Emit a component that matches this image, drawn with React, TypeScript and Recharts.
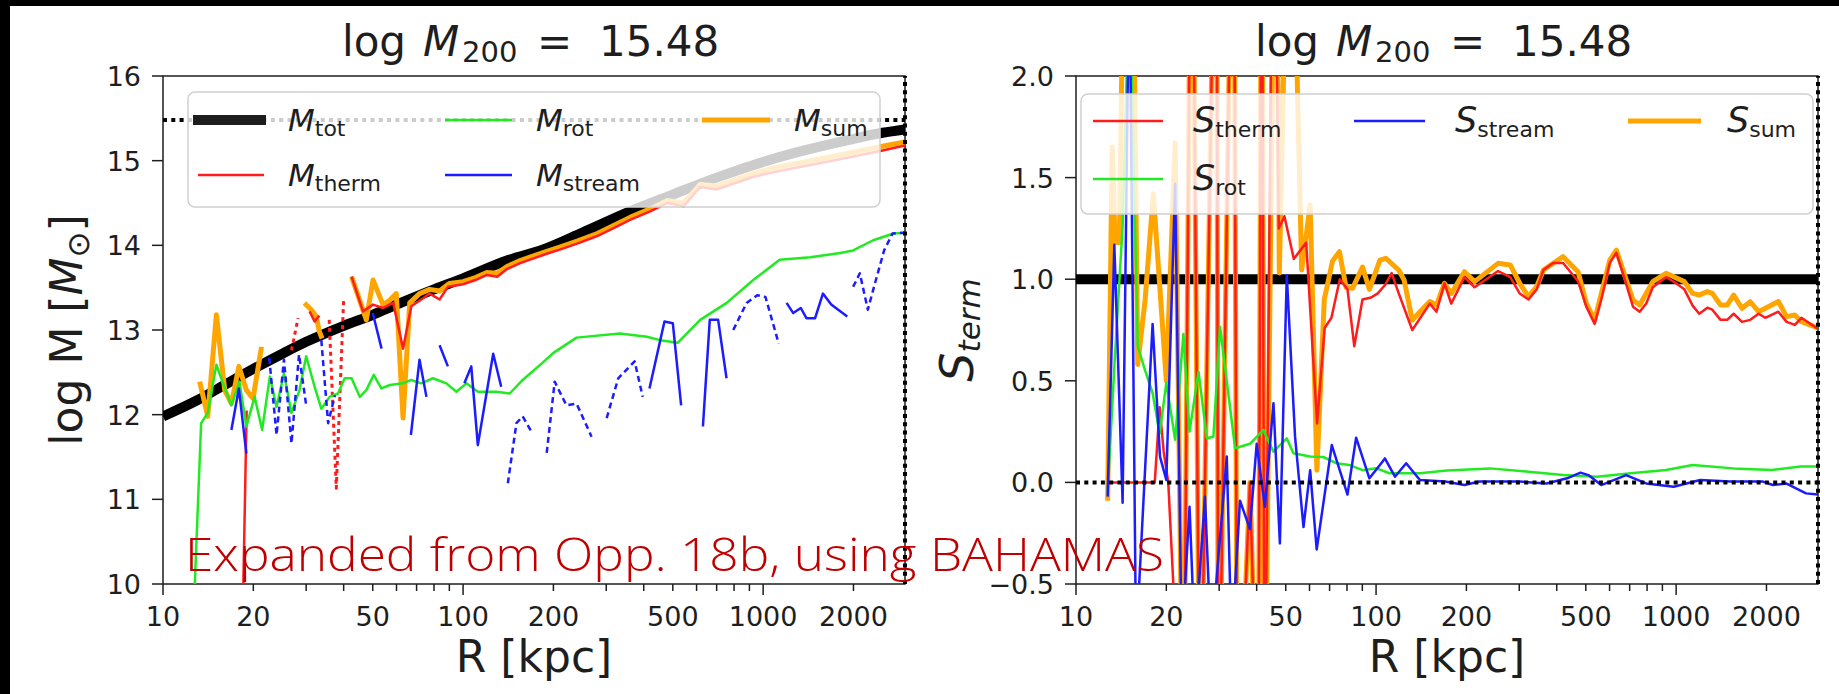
import React from 'react'
import { LineChart, Line, XAxis, YAxis, ReferenceLine, ReferenceArea, Legend } from 'recharts'

const FONT = '"DejaVu Sans", Verdana, sans-serif'
const INK = '#1e1e1e'
const RED = '#ff1c1c'
const GREEN = '#22ea22'
const BLUE = '#1c1cff'
const ORANGE = '#ffa500'

const R_MIN = 10
const R_MAX = 2970
const LOG_M200 = 15.48

const rTicks = [10, 20, 30, 40, 50, 60, 70, 80, 90, 100, 200, 300, 400, 500, 600, 700, 800, 900, 1000, 2000]
const rLabelled = [10, 20, 50, 100, 200, 500, 1000, 2000]
const massTicks = [10, 11, 12, 13, 14, 15, 16]
const termTicks = [-0.5, 0, 0.5, 1, 1.5, 2]

type Pt = [number, number | null]

// left panel: log M(<R)
const mTot: Pt[] = [
  [10, 11.98], [13, 12.17], [16, 12.35], [20, 12.54], [25, 12.72], [30, 12.86], [40, 13.05], [50, 13.18],
  [60, 13.3], [80, 13.48], [100, 13.61], [140, 13.82], [185, 13.95], [250, 14.15], [360, 14.4], [500, 14.6],
  [700, 14.8], [930, 14.95], [1300, 15.1], [1900, 15.24], [2500, 15.33], [2970, 15.37],
]
const mSum: Pt[] = [
  [13.25, 12.39], [14.1, 11.98], [15.06, 13.18], [16.06, 12.29], [16.9, 12.13], [17.9, 12.57], [18.96, 12.29],
  [19.95, 12.19], [21.3, 12.8], [25, null],
  [29.6, 13.32], [31.2, 13.24], [32.4, 13.16], [33.2, 12.98], [33.9, 12.9], [38, null],
  [42.5, 13.63], [47.6, 13.12], [50.1, 13.59], [54.1, 13.3], [56.9, 13.35], [59.9, 13.43], [63.1, 11.96],
  [66.4, 13.32], [71.6, 13.43], [77.4, 13.48], [83.5, 13.46], [90, 13.55], [100, 13.57], [110, 13.62],
  [120, 13.68], [130, 13.67], [140, 13.75], [155, 13.82], [170, 13.87], [190, 13.93], [210, 13.98],
  [240, 14.05], [280, 14.14], [320, 14.24], [360, 14.33], [420, 14.43], [480, 14.53], [543, 14.5],
  [617, 14.72], [700, 14.7], [800, 14.77], [930, 14.85], [1100, 14.92], [1350, 14.98], [1650, 15.04],
  [2000, 15.1], [2500, 15.17], [2970, 15.22],
]
const mTherm: Pt[] = [
  [18.3, 9.0], [19.0, 12.05], [25, null],
  [30.8, 13.22], [32.0, 13.1], [33.2, 13.17], [38, null],
  [42.5, 13.63], [46.4, 13.22], [50.1, 13.3], [54.1, 13.26], [58.5, 13.32], [63.1, 12.78], [67.2, 13.28],
  [72.6, 13.36], [77.4, 13.43], [83.5, 13.36], [89, 13.51], [100, 13.54], [110, 13.59], [120, 13.65],
  [130, 13.63], [140, 13.72], [155, 13.79], [170, 13.84], [190, 13.9], [210, 13.95], [240, 14.02],
  [280, 14.11], [320, 14.21], [360, 14.3], [420, 14.4], [480, 14.5], [543, 14.46], [617, 14.69],
  [700, 14.66], [800, 14.73], [930, 14.81], [1100, 14.87], [1350, 14.93], [1650, 14.99], [2000, 15.05],
  [2500, 15.12], [2970, 15.18],
]
const mThermNeg: Pt[] = [
  [26.8, 12.76], [28.2, 13.14], [31, null], [35.8, 13.12], [37.8, 11.13], [40, 13.37],
]
const mRot: Pt[] = [
  [12.6, 9.5], [13.4, 11.9], [14.1, 12.02], [15.06, 12.59], [15.85, 12.37], [16.9, 12.11], [17.98, 12.39],
  [18.96, 11.86], [20.2, 12.21], [21.4, 11.82], [22.7, 12.45], [23.9, 12.09], [25.3, 12.49], [26.8, 12.02],
  [28.5, 12.29], [30.0, 12.69], [32.0, 12.33], [33.7, 12.07], [35.9, 12.21], [38.3, 12.25], [40.3, 12.43],
  [42.5, 12.43], [45.3, 12.21], [47.6, 12.29], [50.4, 12.47], [53.4, 12.31], [57, 12.35], [63.1, 12.37],
  [67.2, 12.41], [72.6, 12.37], [79.4, 12.43], [88, 12.37], [95, 12.27], [102.6, 12.37], [112, 12.27],
  [129, 12.27], [143, 12.25], [158, 12.41], [185, 12.62], [200, 12.73], [239, 12.91], [333, 12.96],
  [410, 12.92], [453, 12.88], [520, 12.85], [617, 13.12], [756, 13.32], [927, 13.59], [1135, 13.83],
  [1436, 13.86], [1807, 13.91], [1995, 13.94], [2326, 14.06], [2720, 14.14], [2970, 14.15],
]
const mStream: Pt[] = [
  [16.9, 11.82], [17.9, 12.31], [18.96, 11.54], [30, null],
  [50, 13.2], [53.5, 12.78], [60, null],
  [67, 11.76], [71.6, 12.65], [75.5, 12.21], [80, null],
  [83.5, 12.82], [89, 12.57], [95, null],
  [101, 12.37], [106.5, 12.57], [112, 11.64], [126, 12.72], [134, 12.33], [200, null],
  [418, 12.31], [469, 13.1], [500, 13.08], [533, 12.11], [580, null],
  [630, 11.86], [664, 13.12], [708, 13.12], [755, 12.43], [900, null],
  [1197, 13.32], [1260, 13.2], [1335, 13.26], [1394, 13.14], [1490, 13.14], [1582, 13.43], [1686, 13.3],
  [1907, 13.16],
]
const mStreamNeg: Pt[] = [
  [22.6, 12.67], [23.9, 11.76], [25.3, 12.65], [26.8, 11.66], [28.4, 12.71], [30.0, 12.11], [32, null],
  [33.7, 12.88], [35.5, 11.9], [37.4, 12.23], [80, null],
  [141, 11.19], [150.6, 11.9], [158, 11.98], [169, 11.8], [180, null],
  [190, 11.55], [202, 12.39], [221, 12.11], [239, 12.13], [268, 11.74], [285, null],
  [301, 11.96], [329, 12.43], [373, 12.63], [397, 12.21], [600, null],
  [795, 13.0], [881, 13.32], [955, 13.41], [1018, 13.39], [1127, 12.84], [1500, null],
  [1995, 13.51], [2100, 13.67], [2233, 13.24], [2350, 13.53], [2530, 13.94], [2700, 14.14], [2970, 14.15],
]

// right panel: S_term
const sUnity: Pt[] = [[10, 1], [2970, 1]]
const sSum: Pt[] = [
  [12.75, -0.09], [13.2, 1.65], [13.5, 1.18], [13.95, 1.18], [14.5, 3.0], [15.4, 3.0], [16.06, 0.58],
  [17, 0.9], [18.1, 1.42], [20.0, 0.5], [21.4, 1.67], [22.8, -1.5], [24.3, 3.5], [25.9, -1.5], [29.4, 3.5],
  [29.8, -1.5], [33.5, 3.5], [34.5, -1.5], [38.0, 0], [40.5, -1.5], [41.6, 3.5], [42.5, -1.5], [46.3, 3.5],
  [47.6, 1.03], [51.7, 3.5], [56.5, 1.045], [60.3, 1.365], [63.5, 0.06], [67.2, 0.9], [71.6, 1.09],
  [75.5, 1.135], [79.4, 0.96], [83.5, 0.955], [90.1, 1.06], [95, 0.95], [103, 1.094], [107.8, 1.103],
  [119, 1.045], [124, 0.996], [132, 0.799], [151, 0.89], [159, 0.873], [169, 0.98], [178, 0.93], [197, 1.037],
  [213, 0.988], [255, 1.078], [280, 1.07], [301, 0.98], [322, 0.914], [343, 0.963], [361, 1.045], [420, 1.111],
  [471, 1.037], [502, 0.881], [535, 0.799], [601, 1.094], [632, 1.143], [718, 0.898], [756, 0.873], [836, 0.988],
  [926, 1.029], [1065, 0.988], [1135, 0.93], [1194, 0.922], [1271, 0.939], [1320, 0.93], [1406, 0.873],
  [1479, 0.873], [1555, 0.922], [1657, 0.857], [1766, 0.889], [1883, 0.84], [2191, 0.89], [2334, 0.816],
  [2487, 0.824], [2615, 0.791], [2970, 0.76],
]
const sTherm: Pt[] = [
  [12.75, 0], [14.5, 0], [16.5, 0], [18.3, 0], [19.0, 0.37], [19.6, 0.15], [20.3, 0], [22.8, -1.5], [24.3, 3.5],
  [25.9, -1.5], [29.4, 3.5], [29.8, -1.5], [33.5, 3.5], [34.5, -1.5], [38.0, 0], [40.5, -1.5], [41.6, 3.5],
  [42.5, -1.5], [45.5, 3.5], [47.4, 1.25], [49.5, 1.31], [53.2, 1.1], [58.5, 1.18], [63.6, 0.29], [67.4, 0.76],
  [71, 0.81], [75.7, 1.0], [80.3, 0.95], [84.6, 0.67], [90.1, 0.9], [96.3, 0.91], [101.3, 0.93], [107, 0.97],
  [112.7, 1.03], [119, 0.93], [132, 0.75], [151, 0.88], [159, 0.84], [169, 0.98], [178, 0.88], [197, 1.01],
  [213, 0.96], [233, 1.0], [255, 1.04], [280, 1.01], [301, 0.93], [322, 0.9], [343, 0.95], [361, 1.045],
  [389, 1.08], [420, 1.08], [471, 0.99], [502, 0.865], [535, 0.78], [563, 0.9], [601, 1.08], [632, 1.13],
  [674, 1.0], [718, 0.865], [756, 0.84], [795, 0.88], [836, 0.96], [926, 1.01], [999, 0.98], [1065, 0.95],
  [1135, 0.87], [1194, 0.83], [1271, 0.86], [1320, 0.85], [1406, 0.8], [1479, 0.8], [1555, 0.83], [1657, 0.79],
  [1766, 0.8], [1883, 0.83], [1981, 0.81], [2191, 0.84], [2334, 0.79], [2487, 0.775], [2615, 0.81], [2970, 0.755],
]
const sRot: Pt[] = [
  [12.75, -0.05], [13.42, 0.57], [14.3, 1.26], [15.06, 2.5], [16.06, 0.67], [17.0, 0.55], [18.0, 0.44],
  [19.0, 0.24], [20.0, 0.49], [21.4, 0.21], [22.8, 0.73], [23.9, 0.25], [25.6, 0.545], [27.3, 0.217],
  [28.7, 0.225], [30.2, 0.766], [33.9, 0.168], [38, 0.19], [42.1, 0.258], [45.5, 0.151], [50.4, 0.217],
  [53, 0.143], [60.3, 0.127], [66.7, 0.125], [73.9, 0.094], [81.4, 0.086], [90.1, 0.06], [100, 0.07],
  [110.7, 0.045], [140, 0.045], [172, 0.058], [240, 0.069], [322, 0.053], [420, 0.036], [544, 0.028],
  [706, 0.045], [926, 0.061], [1135, 0.086], [1550, 0.069], [2080, 0.061], [2600, 0.078], [2970, 0.078],
]
const sStream: Pt[] = [
  [12.75, -0.07], [13.42, 1.17], [14.3, -0.1], [15.06, 2.6], [15.85, -0.8], [18.0, 0.78], [19.05, 0.127],
  [20.0, 0.012], [21.4, 1.47], [22.5, -0.8], [23.9, -0.12], [24.9, -0.8], [26.9, -0.07], [28.2, -0.8],
  [31.8, 0.127], [33.0, -0.8], [35.2, -0.09], [38, -0.23], [40, 0.19], [42.6, -0.12], [45.5, 0.39],
  [47.8, -0.3], [50.4, 1.02], [53.7, 0.225], [57.3, -0.22], [60.3, 0.06], [63.4, -0.33], [71.2, 0.184],
  [80.3, -0.06], [85.8, 0.22], [95.0, 0.02], [103, 0.086], [107, 0.118], [115.6, 0.028], [126, 0.094],
  [140, 0.012], [170, 0.004], [197, -0.013], [221, 0.004], [301, 0.004], [370, -0.005], [433, 0.02],
  [480, 0.048], [510, 0.036], [563, -0.013], [681, 0.036], [795, -0.005], [981, -0.021], [1203, 0.012],
  [1512, 0.004], [1947, 0.004], [2100, -0.013], [2324, -0.005], [2710, -0.054], [2970, -0.06],
]

const rows = (pts: Pt[]) => pts.map(([r, v]) => ({ r, v }))

const base = {
  dataKey: 'v',
  type: 'linear' as const,
  dot: false,
  activeDot: false,
  isAnimationActive: false,
  strokeLinejoin: 'round' as const,
}

function XTick({ x, y, payload }: any) {
  const v = payload.value
  const decade = v === 10 || v === 100 || v === 1000
  return (
    <g>
      <line x1={x} x2={x} y1={y} y2={y + (decade ? 11 : 7)} stroke={INK} strokeWidth={1.5} />
      {rLabelled.includes(v) && (
        <text x={x} y={y + 42} textAnchor="middle" fontFamily={FONT} fontSize={27} fill={INK}>
          {v}
        </text>
      )}
    </g>
  )
}

function YTick({ x, y, payload, fmt }: any) {
  return (
    <g>
      <line x1={x - 11} x2={x} y1={y} y2={y} stroke={INK} strokeWidth={1.5} />
      <text x={x - 22} y={y + 10} textAnchor="end" fontFamily={FONT} fontSize={27} fill={INK}>
        {fmt(payload.value)}
      </text>
    </g>
  )
}

function Title({ cx }: { cx: number }) {
  return (
    <text y={56} fontFamily={FONT} fontSize={42} fill={INK} style={{ whiteSpace: 'pre' }}>
      <tspan x={cx - 192}>log</tspan>
      <tspan x={cx - 111} fontStyle="italic">M</tspan>
      <tspan x={cx - 72} dy={6} fontSize={29}>200</tspan>
      <tspan x={cx + 3} dy={-6}>=</tspan>
      <tspan x={cx + 65}>{LOG_M200.toFixed(2)}</tspan>
    </text>
  )
}

type Entry = { color: string; w: number; x1: number; x2: number; row: number; tx: number; sub: string }

function LegendBox({ w, h, rowsY, entries, sym, symSize }: { w: number; h: number; rowsY: number[]; entries: Entry[]; sym: string; symSize: number }) {
  return (
    <svg width={w} height={h} style={{ display: 'block' }}>
      <rect x={1} y={1} width={w - 2} height={h - 2} rx={7} fill="#fff" fillOpacity={0.8} stroke="#d0d0d0" strokeWidth={1.5} />
      {entries.map((e) => (
        <g key={e.sub}>
          <line x1={e.x1} x2={e.x2} y1={rowsY[e.row]} y2={rowsY[e.row]} stroke={e.color} strokeWidth={e.w} />
          <text x={e.tx} y={rowsY[e.row] + 11} fontFamily={FONT} fontSize={31} fill={INK}>
            <tspan fontStyle="italic" fontSize={symSize}>{sym}</tspan>
            <tspan fontSize={22} dy={5}>{e.sub}</tspan>
          </text>
        </g>
      ))}
    </svg>
  )
}

const massLegend: Entry[] = [
  { color: INK, w: 10, x1: 6, x2: 79, row: 0, tx: 101, sub: 'tot' },
  { color: GREEN, w: 2.5, x1: 258, x2: 325, row: 0, tx: 349, sub: 'rot' },
  { color: ORANGE, w: 5, x1: 515, x2: 583, row: 0, tx: 607, sub: 'sum' },
  { color: RED, w: 2.5, x1: 11, x2: 77, row: 1, tx: 101, sub: 'therm' },
  { color: BLUE, w: 2.5, x1: 258, x2: 325, row: 1, tx: 349, sub: 'stream' },
]
const termLegend: Entry[] = [
  { color: RED, w: 2.5, x1: 13, x2: 83, row: 0, tx: 113, sub: 'therm' },
  { color: BLUE, w: 2.5, x1: 274, x2: 345, row: 0, tx: 375, sub: 'stream' },
  { color: ORANGE, w: 5, x1: 548, x2: 621, row: 0, tx: 647, sub: 'sum' },
  { color: GREEN, w: 2.5, x1: 13, x2: 83, row: 1, tx: 113, sub: 'rot' },
]

const dots = { stroke: '#000', strokeWidth: 4, strokeDasharray: '4 4.3' }

function MassPanel() {
  return (
    <LineChart width={915} height={694} margin={{ top: 76, right: 10, bottom: 60, left: 103 }}>
      <XAxis dataKey="r" type="number" scale="log" domain={[R_MIN, R_MAX]} allowDataOverflow ticks={rTicks}
        interval={0} tickSize={0} tickMargin={0} axisLine={false} tick={<XTick />} height={50} />
      <YAxis type="number" domain={[10, 16]} allowDataOverflow ticks={massTicks} interval={0} tickSize={0}
        tickMargin={0} axisLine={false} width={60} tick={(p: any) => <YTick {...p} fmt={(v: number) => String(v)} />} />
      <ReferenceArea x1={R_MIN} x2={R_MAX} y1={10} y2={16} fill="none" stroke={INK} strokeWidth={1.5} />
      <Line {...base} data={rows(mTot)} type="monotone" stroke="#000" strokeWidth={10} name="tot" />
      <Line {...base} data={rows(mSum)} stroke={ORANGE} strokeWidth={5} name="sum" />
      <Line {...base} data={rows(mTherm)} stroke={RED} strokeWidth={2.5} name="therm" />
      <Line {...base} data={rows(mThermNeg)} stroke={RED} strokeWidth={3} strokeDasharray="4 4" name="thermNeg" />
      <Line {...base} data={rows(mRot)} stroke={GREEN} strokeWidth={2.5} name="rot" />
      <Line {...base} data={rows(mStream)} stroke={BLUE} strokeWidth={2.5} name="stream" />
      <Line {...base} data={rows(mStreamNeg)} stroke={BLUE} strokeWidth={2.5} strokeDasharray="6 4" name="streamNeg" />
      <ReferenceLine y={LOG_M200} {...dots} />
      <ReferenceLine x={R_MAX} {...dots} />
      <Legend verticalAlign="middle" align="center" layout="horizontal"
        wrapperStyle={{ left: 187, top: 91, width: 694, height: 117 }}
        content={() => <LegendBox w={694} h={117} rowsY={[29, 84]} entries={massLegend} sym="M" symSize={31} />} />
      <Title cx={534} />
      <text x={534} y={672} textAnchor="middle" fontFamily={FONT} fontSize={44} fill={INK}>R [kpc]</text>
      <text transform="translate(82,330) rotate(-90)" textAnchor="middle" fontFamily={FONT} fontSize={44} fill={INK}>
        <tspan>log M [</tspan>
        <tspan fontStyle="italic">M</tspan>
        <tspan dy={7} fontSize={31}>⊙</tspan>
        <tspan dy={-7}>]</tspan>
      </text>
    </LineChart>
  )
}

function TermPanel() {
  return (
    <LineChart width={924} height={694} margin={{ top: 76, right: 21, bottom: 60, left: 101 }}>
      <XAxis dataKey="r" type="number" scale="log" domain={[R_MIN, R_MAX]} allowDataOverflow ticks={rTicks}
        interval={0} tickSize={0} tickMargin={0} axisLine={false} tick={<XTick />} height={50} />
      <YAxis type="number" domain={[-0.5, 2]} allowDataOverflow ticks={termTicks} interval={0} tickSize={0}
        tickMargin={0} axisLine={false} width={60}
        tick={(p: any) => <YTick {...p} fmt={(v: number) => v.toFixed(1).replace('-', '\u2212')} />} />
      <ReferenceArea x1={R_MIN} x2={R_MAX} y1={-0.5} y2={2} fill="none" stroke={INK} strokeWidth={1.5} />
      <Line {...base} data={rows(sUnity)} stroke="#000" strokeWidth={10} name="unity" />
      <Line {...base} data={rows(sSum)} stroke={ORANGE} strokeWidth={5} name="sum" />
      <Line {...base} data={rows(sTherm)} stroke={RED} strokeWidth={2.5} name="therm" />
      <Line {...base} data={rows(sRot)} stroke={GREEN} strokeWidth={2.5} name="rot" />
      <Line {...base} data={rows(sStream)} stroke={BLUE} strokeWidth={2.5} name="stream" />
      <ReferenceLine y={0} {...dots} />
      <ReferenceLine x={R_MAX} {...dots} />
      <Legend verticalAlign="middle" align="center" layout="horizontal"
        wrapperStyle={{ left: 165, top: 93, width: 734, height: 122 }}
        content={() => <LegendBox w={734} h={122} rowsY={[28, 86]} entries={termLegend} sym="S" symSize={35} />} />
      <Title cx={532} />
      <text x={532} y={672} textAnchor="middle" fontFamily={FONT} fontSize={44} fill={INK}>R [kpc]</text>
      <text transform="translate(58,330) rotate(-90)" textAnchor="middle" fontFamily={FONT} fontSize={44} fill={INK}>
        <tspan fontStyle="italic" fontSize={46}>S</tspan>
        <tspan fontStyle="italic" dy={7} fontSize={31}>term</tspan>
      </text>
    </LineChart>
  )
}

export default function App() {
  return (
    <div style={{ position: 'absolute', left: 0, top: 0, width: 1839, height: 694, background: '#fff', overflow: 'hidden' }}>
      <div style={{ position: 'absolute', left: 0, top: 0 }}>
        <MassPanel />
      </div>
      <div style={{ position: 'absolute', left: 915, top: 0 }}>
        <TermPanel />
      </div>
      <svg width={1839} height={694} style={{ position: 'absolute', left: 0, top: 0, pointerEvents: 'none' }}>
        <text x={185} y={571} textLength={979} lengthAdjust="spacingAndGlyphs" fontFamily="'Open Sans', Lato, sans-serif"
          fontWeight={300} fontSize={46} fill="#c00000">
          Expanded from Opp. 18b, using BAHAMAS
        </text>
      </svg>
      <div style={{ position: 'absolute', left: 0, top: 0, width: 1839, height: 6, background: '#000' }} />
      <div style={{ position: 'absolute', left: 0, top: 0, width: 10, height: 694, background: '#000' }} />
    </div>
  )
}
